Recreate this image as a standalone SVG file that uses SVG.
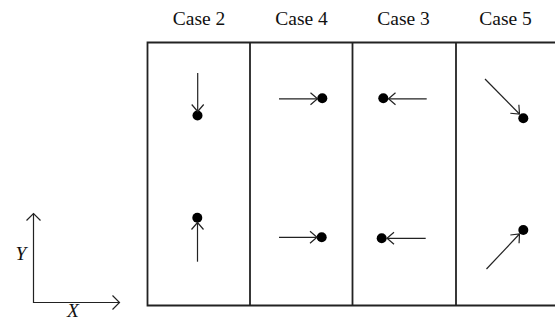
<svg xmlns="http://www.w3.org/2000/svg" width="555" height="323" viewBox="0 0 555 323">
<defs>
<style>
.lbl{font-family:"Liberation Serif","Times New Roman",serif;font-size:19.5px;fill:#111;text-anchor:middle}
.ax{font-family:"Liberation Serif","Times New Roman",serif;font-size:19.5px;font-style:italic;fill:#111;text-anchor:middle}
.frame{fill:none;stroke:#222;stroke-width:1.8}
.arr{fill:none;stroke:#222;stroke-width:1.2}
.dot{fill:#000}
</style>
<marker id="ah" viewBox="-8 -7 10 14" markerWidth="10" markerHeight="14" refX="0" refY="0" orient="auto" markerUnits="userSpaceOnUse">
<path d="M-7,-6 L0,0 L-7,6" fill="none" stroke="#222" stroke-width="1.2"/>
</marker>
</defs>
<rect width="555" height="323" fill="#fff"/>
<g id="frame">
<path class="frame" d="M556,42.5 H147.5 V305.5 H556"/>
<line class="frame" x1="250" y1="42.5" x2="250" y2="305.5"/>
<line class="frame" x1="352.5" y1="42.5" x2="352.5" y2="305.5"/>
<line class="frame" x1="456" y1="42.5" x2="456" y2="305.5"/>
</g>
<g id="labels">
<text class="lbl" x="199" y="24.5">Case 2</text>
<text class="lbl" x="301.5" y="24.5">Case 4</text>
<text class="lbl" x="403.5" y="24.5">Case 3</text>
<text class="lbl" x="505.5" y="24.5">Case 5</text>
</g>
<g id="axes">
<path class="arr" d="M33.5,213.5 V302.5 H119.5" stroke-width="1.4"/>
<path class="arr" d="M26.5,220.5 L33.5,213.5 L40.5,220.5" stroke-width="1.4"/>
<path class="arr" d="M112.5,295.5 L119.5,302.5 L112.5,309.5" stroke-width="1.4"/>
<text class="ax" x="21" y="260">Y</text>
<text class="ax" x="73" y="317">X</text>
</g>
<g id="dots">
<circle class="dot" cx="197.5" cy="115.5" r="5"/>
<circle class="dot" cx="322.3" cy="98.3" r="5"/>
<circle class="dot" cx="383.3" cy="98.3" r="5"/>
<circle class="dot" cx="523.3" cy="118.3" r="5"/>
<circle class="dot" cx="197.3" cy="217.7" r="5"/>
<circle class="dot" cx="321.7" cy="237.3" r="5"/>
<circle class="dot" cx="381.7" cy="238.3" r="5"/>
<circle class="dot" cx="523.3" cy="230" r="5"/>
</g>
<g id="connectors">
<line class="arr" x1="197.7" y1="73" x2="197.7" y2="111.5" marker-end="url(#ah)"/>
<line class="arr" x1="279" y1="98.8" x2="317.5" y2="98.8" marker-end="url(#ah)"/>
<line class="arr" x1="426.7" y1="98.8" x2="388.5" y2="98.8" marker-end="url(#ah)"/>
<line class="arr" x1="485" y1="79" x2="519.5" y2="114" marker-end="url(#ah)"/>
<line class="arr" x1="197.5" y1="261.7" x2="197.5" y2="222.5" marker-end="url(#ah)"/>
<line class="arr" x1="279" y1="237.3" x2="317" y2="237.3" marker-end="url(#ah)"/>
<line class="arr" x1="425.7" y1="238.3" x2="387" y2="238.3" marker-end="url(#ah)"/>
<line class="arr" x1="486.5" y1="269" x2="519.5" y2="234" marker-end="url(#ah)"/>
</g>
</svg>
